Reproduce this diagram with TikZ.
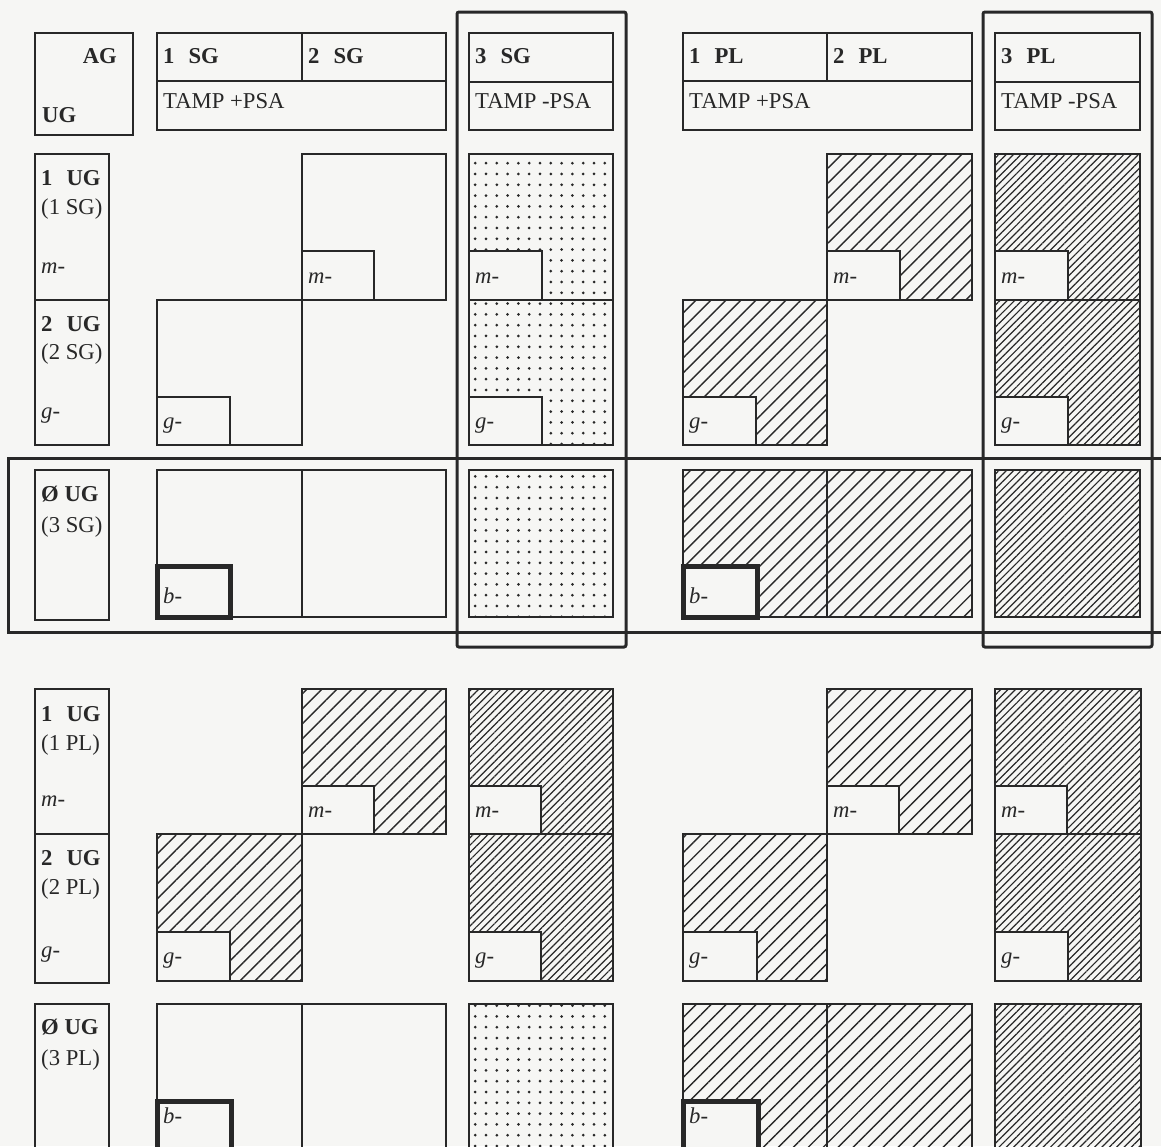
\documentclass[tikz,border=0pt]{standalone}
\usepackage{fontspec}
\setmainfont{Liberation Serif}
\usetikzlibrary{patterns.meta}

\definecolor{ink}{RGB}{40,40,40}
\definecolor{paper}{RGB}{246,246,244}
\newcommand{\labfont}{\fontsize{22.7}{27}\selectfont}
\newcommand{\wsp}{\hspace{0.62em}} % wide gap in the bold heads

\begin{document}
\begin{tikzpicture}[
    x=1pt, y=-1pt, % pixel-like units, y runs down
    box/.style={draw=ink, line width=2.8pt}, % Style for cell borders
    frame/.style={draw=ink, line width=3pt}, % Style for the long frames
    wide/.style={box, pattern={Lines[angle=45, distance=10.6pt, line width=1.4pt]}, pattern color=ink},
    dense/.style={box, pattern={Lines[angle=45, distance=5.2pt, line width=1.2pt]}, pattern color=ink},
    dotty/.style={box, pattern={Dots[distance=10.8pt, radius=1.5pt]}, pattern color=ink},
    hole/.style={box, fill=paper}, % white corner box
    bhole/.style={hole, line width=5pt}, % thick corner box
    txt/.style={text=ink, anchor=base west, inner sep=0pt, font=\labfont},
    bold/.style={txt, font=\labfont\bfseries},
    cut/.style={txt, font=\labfont\itshape}
]

    % Page
    \useasboundingbox (0,0) rectangle (1161,1146);
    \fill[paper] (0,0) rectangle (1161,1146);
    \clip (0,0) rectangle (1161,1146);

    % Head boxes
    \draw[box] (35,33) rectangle (133,135);
    \node[bold, anchor=base east] (ag) at (117,63) {AG};
    \node[bold] (ug) at (42,122) {UG};

    \draw[box] (157,33) rectangle (446,130);
    \draw[box] (157,81) -- (446,81) (302,33) -- (302,81);
    \node[bold] (sg1) at (163,63) {1\wsp SG};
    \node[bold] (sg2) at (308,63) {2\wsp SG};
    \node[txt] (psaA) at (163,108) {TAMP +PSA};

    \draw[box] (469,33) rectangle (613,130);
    \draw[box] (469,82) -- (613,82);
    \node[bold] (sg3) at (475,63) {3\wsp SG};
    \node[txt] (psaB) at (475,108) {TAMP -PSA};

    \draw[box] (683,33) rectangle (972,130);
    \draw[box] (683,81) -- (972,81) (827,33) -- (827,81);
    \node[bold] (pl1) at (689,63) {1\wsp PL};
    \node[bold] (pl2) at (833,63) {2\wsp PL};
    \node[txt] (psaC) at (689,108) {TAMP +PSA};

    \draw[box] (995,33) rectangle (1140,130);
    \draw[box] (995,82) -- (1140,82);
    \node[bold] (pl3) at (1001,63) {3\wsp PL};
    \node[txt] (psaD) at (1001,108) {TAMP -PSA};

    % Upper rows: labels
    \draw[box] (35,154) rectangle (109,445);
    \draw[box] (35,300) -- (109,300);
    \node[bold] (ugA) at (41,185) {1\wsp UG};
    \node[txt] (ugAs) at (41,214) {(1 SG)};
    \node[cut] (mA) at (41,273) {m-};
    \node[bold] (ugB) at (41,331) {2\wsp UG};
    \node[txt] (ugBs) at (41,359) {(2 SG)};
    \node[cut] (gA) at (41,418) {g-};
    \draw[box] (35,470) rectangle (109,620);
    \node[bold] (ugC) at (41,501) {Ø UG};
    \node[txt] (ugCs) at (41,532) {(3 SG)};

    % Upper rows: 1 UG
    \draw[box] (302,154) rectangle (446,300);
    \draw[hole] (302,251) rectangle (374,300);
    \node[cut] (m12) at (308,283) {m-};
    \draw[dotty] (469,154) rectangle (613,300);
    \draw[hole] (469,251) rectangle (542,300);
    \node[cut] (m13) at (475,283) {m-};
    \draw[wide] (827,154) rectangle (972,300);
    \draw[hole] (827,251) rectangle (900,300);
    \node[cut] (m15) at (833,283) {m-};
    \draw[dense] (995,154) rectangle (1140,300);
    \draw[hole] (995,251) rectangle (1068,300);
    \node[cut] (m16) at (1001,283) {m-};

    % Upper rows: 2 UG
    \draw[box] (157,300) rectangle (302,445);
    \draw[hole] (157,397) rectangle (230,445);
    \node[cut] (g21) at (163,428) {g-};
    \draw[dotty] (469,300) rectangle (613,445);
    \draw[hole] (469,397) rectangle (542,445);
    \node[cut] (g23) at (475,428) {g-};
    \draw[wide] (683,300) rectangle (827,445);
    \draw[hole] (683,397) rectangle (756,445);
    \node[cut] (g24) at (689,428) {g-};
    \draw[dense] (995,300) rectangle (1140,445);
    \draw[hole] (995,397) rectangle (1068,445);
    \node[cut] (g26) at (1001,428) {g-};

    % Upper rows: Ø UG
    \draw[box] (157,470) rectangle (446,617);
    \draw[box] (302,470) -- (302,617);
    \draw[bhole] (157,566) rectangle (230,617);
    \node[cut] (b31) at (163,603) {b-};
    \draw[dotty] (469,470) rectangle (613,617);
    \draw[wide] (683,470) rectangle (972,617);
    \draw[box] (827,470) -- (827,617);
    \draw[bhole] (683,566) rectangle (757,617);
    \node[cut] (b34) at (689,603) {b-};
    \draw[dense] (995,470) rectangle (1140,617);

    % Frames round 3 SG, 3 PL and the Ø row
    \draw[frame, rounded corners=2pt] (457,12) rectangle (626,647);
    \draw[frame, rounded corners=2pt] (983,12) rectangle (1152,647);
    \draw[frame] (1170,458) -- (8,458) -- (8,632) -- (1170,632);

    % Lower rows: labels
    \draw[box] (35,689) rectangle (109,983);
    \draw[box] (35,834) -- (109,834);
    \node[bold] (ugD) at (41,721) {1\wsp UG};
    \node[txt] (ugDs) at (41,750) {(1 PL)};
    \node[cut] (mB) at (41,806) {m-};
    \node[bold] (ugE) at (41,865) {2\wsp UG};
    \node[txt] (ugEs) at (41,894) {(2 PL)};
    \node[cut] (gB) at (41,957) {g-};
    \draw[box] (35,1004) rectangle (109,1170);
    \node[bold] (ugF) at (41,1034) {Ø UG};
    \node[txt] (ugFs) at (41,1065) {(3 PL)};

    % Lower rows: 1 UG
    \draw[wide] (302,689) rectangle (446,834);
    \draw[hole] (302,786) rectangle (374,834);
    \node[cut] (m42) at (308,817) {m-};
    \draw[dense] (469,689) rectangle (613,834);
    \draw[hole] (469,786) rectangle (541,834);
    \node[cut] (m43) at (475,817) {m-};
    \draw[wide] (827,689) rectangle (972,834);
    \draw[hole] (827,786) rectangle (899,834);
    \node[cut] (m45) at (833,817) {m-};
    \draw[dense] (995,689) rectangle (1141,834);
    \draw[hole] (995,786) rectangle (1067,834);
    \node[cut] (m46) at (1001,817) {m-};

    % Lower rows: 2 UG
    \draw[wide] (157,834) rectangle (302,981);
    \draw[hole] (157,932) rectangle (230,981);
    \node[cut] (g51) at (163,963) {g-};
    \draw[dense] (469,834) rectangle (613,981);
    \draw[hole] (469,932) rectangle (541,981);
    \node[cut] (g53) at (475,963) {g-};
    \draw[wide] (683,834) rectangle (827,981);
    \draw[hole] (683,932) rectangle (757,981);
    \node[cut] (g54) at (689,963) {g-};
    \draw[dense] (995,834) rectangle (1141,981);
    \draw[hole] (995,932) rectangle (1068,981);
    \node[cut] (g56) at (1001,963) {g-};

    % Lower rows: Ø UG (cut off at the foot)
    \draw[box] (157,1004) rectangle (446,1170);
    \draw[box] (302,1004) -- (302,1170);
    \draw[bhole] (157,1101) rectangle (231,1170);
    \node[cut] (b61) at (163,1123) {b-};
    \draw[dotty] (469,1004) rectangle (613,1170);
    \draw[wide] (683,1004) rectangle (972,1170);
    \draw[box] (827,1004) -- (827,1170);
    \draw[bhole] (683,1101) rectangle (758,1170);
    \node[cut] (b64) at (689,1123) {b-};
    \draw[dense] (995,1004) rectangle (1141,1170);

\end{tikzpicture}
\end{document}
